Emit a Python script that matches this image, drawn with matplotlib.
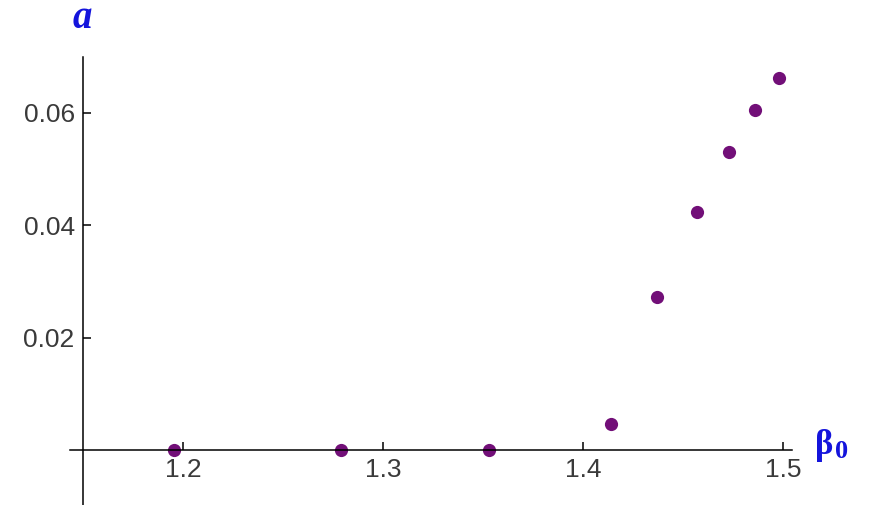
import matplotlib
matplotlib.use('Agg')
import matplotlib.pyplot as plt

# amplitude a versus beta_0
beta0 = [1.1955, 1.279, 1.353, 1.414, 1.4368, 1.4568, 1.473, 1.4858, 1.498]
amp = [0.0, 0.0, 0.0, 0.0046, 0.0273, 0.0423, 0.0531, 0.0605, 0.0662]

xticks = [1.2, 1.3, 1.4, 1.5]
yticks = [0.02, 0.04, 0.06]

fig = plt.figure(figsize=(8.69, 5.05), dpi=100)
ax = fig.add_axes([0, 0, 1, 1])

ax.plot(beta0, amp, 'o', color='#720f78', markersize=9.5, markeredgewidth=0)

ax.set_xlim(1.1085, 1.543)
ax.set_ylim(-0.0098, 0.0801)

# axes crossing Mathematica-style
ax.spines['left'].set_position(('data', 1.15))
ax.spines['bottom'].set_position(('data', 0))
ax.spines['left'].set_bounds(-0.0098, 0.07)
ax.spines['bottom'].set_bounds(1.1435, 1.5045)
ax.spines['top'].set_visible(False)
ax.spines['right'].set_visible(False)
for s in ['left', 'bottom']:
    ax.spines[s].set_linewidth(1.1)

ax.set_xticks(xticks)
ax.set_xticklabels([str(t) for t in xticks])
ax.set_yticks(yticks)
ax.set_yticklabels([f'{t:.2f}' for t in yticks])
ax.tick_params(direction='in', length=6, width=1.1, labelsize=19,
               labelcolor='#3a3a3a', pad=6, labelfontfamily='Liberation Sans')

# axis labels
fig.text(82 / 869, 1 - 19 / 505, 'a', color='#1414dc', fontsize=28,
         family='Liberation Serif', weight='bold', style='italic',
         ha='center', va='center')
fig.text(824 / 869, 1 - 446 / 505, 'β', color='#1414dc', fontsize=25,
         family='Liberation Serif', weight='bold', ha='center', va='center')
fig.text(842 / 869, 1 - 452 / 505, '0', color='#1414dc', fontsize=19,
         family='Liberation Serif', weight='bold', ha='center', va='center')

fig.savefig('out.png', dpi=100)
